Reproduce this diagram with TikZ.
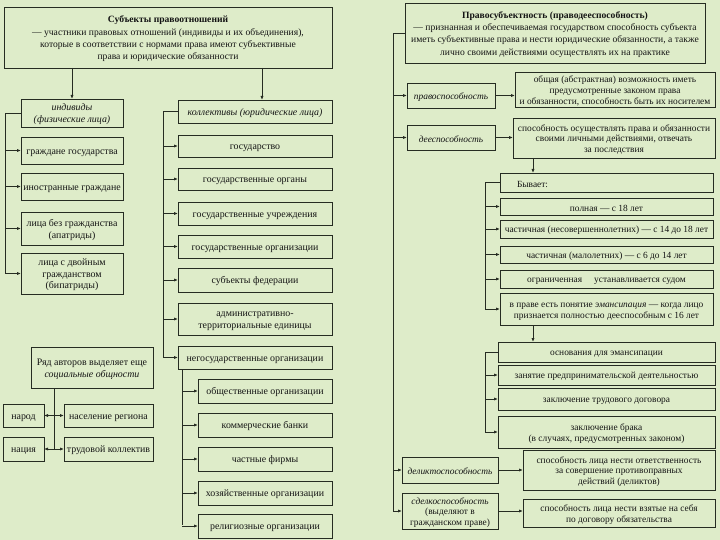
\documentclass[tikz,border=0pt]{standalone}
\usepackage{fontspec}
\setmainfont{Liberation Serif}
\usetikzlibrary{arrows.meta}
\definecolor{bgcol}{RGB}{222,236,201}
\definecolor{lncol}{RGB}{38,44,34}
\definecolor{txcol}{RGB}{20,20,20}
\newcommand\mybox[7][]{\node[bx,#1,minimum width={(#4-#2)*1pt},minimum height={(#5-#3)*1pt}] (#6) at ({(#2+#4)/2},{(#3+#5)/2}) {\rule{0pt}{9.6pt}#7};}
\tikzset{
  bx/.style={draw=lncol,line width=0.9pt,inner sep=0pt,outer sep=0pt,align=center,text=txcol,font=\fontsize{9.9}{11.6}\selectfont},
  big/.style={font=\fontsize{9.6}{12.4}\selectfont},
  sm/.style={font=\fontsize{9.4}{10.8}\selectfont},
  wire/.style={draw=lncol,line width=0.8pt},
  arr/.style={draw=lncol,line width=0.8pt,-{Latex[length=4pt,width=3.2pt]}}
}
\begin{document}
\begin{tikzpicture}[x=1pt,y=-1pt]
\fill[bgcol] (0,0) rectangle (720,540);
\useasboundingbox (0,0) rectangle (720,540);
% ---------- left part
\mybox[big]{4}{7}{332}{68}{top1}{\textbf{Субъекты правоотношений}\\— участники правовых отношений (индивиды и их объединения),\\которые в соответствии с нормами права имеют субъективные\\права и юридические обязанности}
\mybox{21}{99}{123}{127}{indiv}{\textit{индивиды}\\\textit{(физические лица)}}
\mybox{21}{137}{123}{164}{grazh}{граждане государства}
\mybox{21}{173}{123}{200}{inostr}{иностранные граждане}
\mybox{21}{212}{123}{245}{bez}{лица без гражданства\\(апатриды)}
\mybox{21}{253}{123}{294}{dvoin}{лица с двойным\\гражданством\\(бипатриды)}
\mybox{178}{100}{332}{123}{coll}{\textit{коллективы (юридические лица)}}
\mybox{178}{135}{332}{157}{gos}{государство}
\mybox{178}{168}{332}{190}{gosorg}{государственные органы}
\mybox{178}{202}{332}{225}{gosuch}{государственные учреждения}
\mybox{178}{235}{332}{258}{gosorgz}{государственные организации}
\mybox{178}{268}{332}{292}{subfed}{субъекты федерации}
\mybox{178}{303}{332}{335}{adm}{административно-\\территориальные единицы}
\mybox{178}{346}{332}{369}{negos}{негосударственные организации}
\mybox{198}{379}{332}{403}{obsh}{общественные организации}
\mybox{198}{413}{332}{437}{komm}{коммерческие банки}
\mybox{198}{447}{332}{471}{chast}{частные фирмы}
\mybox{198}{481}{332}{505}{hoz}{хозяйственные организации}
\mybox{198}{514}{332}{538}{relig}{религиозные организации}
\mybox{31}{347}{153}{388}{ryad}{Ряд авторов выделяет еще\\\textit{социальные общности}}
\mybox{3}{404}{44}{427}{narod}{народ}
\mybox{64}{404}{153}{427}{nasel}{население региона}
\mybox{3}{437}{44}{461}{naciya}{нация}
\mybox{64}{437}{153}{461}{trud}{трудовой коллектив}
% connectors left
\draw[arr] (top1.south -| indiv.north) -- (indiv.north);
\draw[arr] ([xshift=7pt]coll.north |- top1.south) -- ([xshift=7pt]coll.north);
\coordinate (LL) at (5,0);
\draw[wire] (indiv.west) -| (LL |- dvoin.west);
\foreach \n in {grazh,inostr,bez,dvoin} \draw[arr] (LL |- \n.west) -- (\n.west);
\coordinate (ML) at (163,0);
\draw[wire] (coll.west) -| (ML |- negos.west);
\foreach \n in {gos,gosorg,gosuch,gosorgz,subfed,adm,negos} \draw[arr] (ML |- \n.west) -- (\n.west);
\coordinate (SL) at (182,0);
\draw[wire] (SL |- negos.south) -- ([yshift=1pt]SL |- relig.west);
\foreach \n in {obsh,komm,chast,hoz,relig} \draw[arr] (SL |- \n.west) -- (\n.west);
\coordinate (RL) at (54,0);
\draw[wire] (RL |- ryad.south) -- (RL |- trud.west);
\draw[arr] (RL |- narod.east) -- (narod.east);
\draw[arr] (RL |- nasel.west) -- (nasel.west);
\draw[arr] (RL |- naciya.east) -- (naciya.east);
\draw[arr] (RL |- trud.west) -- (trud.west);
% ---------- right part
\mybox[big]{405}{3}{705}{63}{top2}{\textbf{Правосубъектность (праводееспособность)}\\— признанная и обеспечиваемая государством способность субъекта\\иметь субъективные права и нести юридические обязанности, а также\\лично своими действиями осуществлять их на практике}
\mybox[sm]{407}{83}{495}{108}{pravo}{\textit{правоспособность}}
\mybox[sm]{515}{72}{715}{107}{obshaya}{общая (абстрактная) возможность иметь\\предусмотренные законом права\\и обязанности, способность быть их носителем}
\mybox[sm]{407}{125}{495}{150}{deesp}{\textit{дееспособность}}
\mybox[sm]{513}{118}{715}{158}{sposob}{способность осуществлять права и обязанности\\своими личными действиями, отвечать\\за последствия}
\mybox[sm]{500}{173}{713}{192}{byvaet}{\makebox[179pt][l]{Бывает:}}
\mybox[sm]{500}{198}{713}{215}{polnaya}{полная — с 18 лет}
\mybox[sm]{500}{220}{713}{238}{chast1}{частичная (несовершеннолетних) — с 14 до 18 лет}
\mybox[sm]{500}{246}{713}{263}{chast2}{частичная (малолетних) — с 6 до 14 лет}
\mybox[sm]{500}{270}{713}{288}{ogr}{ограниченная\hspace{12pt}устанавливается судом}
\mybox[sm]{500}{293}{713}{325}{vprave}{в праве есть понятие \textit{эмансипация} — когда лицо\\признается полностью дееспособным с 16 лет}
\mybox[sm]{498}{342}{715}{362}{osnov}{основания для эмансипации}
\mybox[sm]{498}{365}{715}{385}{zanyat}{занятие предпринимательской деятельностью}
\mybox[sm]{498}{388}{715}{410}{trudov}{заключение трудового договора}
\mybox[sm]{498}{416}{715}{448}{brak}{заключение брака\\(в случаях, предусмотренных законом)}
\mybox[sm]{402}{457}{498}{483}{delikt}{\textit{деликтоспособность}}
\mybox[sm]{523}{450}{715}{490}{otvet}{способность лица нести ответственность\\за совершение противоправных\\действий (деликтов)}
\mybox[sm]{402}{493}{498}{529}{sdelk}{\textit{сделкоспособность}\\(выделяют в\\гражданском праве)}
\mybox[sm]{523}{499}{715}{527}{vzyat}{способность лица нести взятые на себя\\по договору обязательства}
% connectors right
\coordinate (RR) at (393,0);
\draw[wire] (top2.west) -| (RR |- sdelk.west);
\foreach \n in {pravo,deesp,delikt,sdelk} \draw[arr] (RR |- \n.west) -- (\n.west);
\draw[arr] (pravo.east) -- (pravo.east -| obshaya.west);
\draw[arr] (deesp.east) -- (deesp.east -| sposob.west);
\draw[arr] (delikt.east) -- (delikt.east -| otvet.west);
\draw[arr] (sdelk.east) -- (sdelk.east -| vzyat.west);
\coordinate (D1) at (533,0);
\draw[arr] (D1 |- sposob.south) -- (D1 |- byvaet.north);
\coordinate (BL) at (485,0);
\draw[wire] (byvaet.west) -| (BL |- vprave.west);
\foreach \n in {polnaya,chast1,chast2,ogr,vprave} \draw[arr] (BL |- \n.west) -- (\n.west);
\draw[arr] (D1 |- vprave.south) -- (D1 |- osnov.north);
\draw[wire] (osnov.west) -| (BL |- brak.west);
\foreach \n in {zanyat,trudov,brak} \draw[arr] (BL |- \n.west) -- (\n.west);
\end{tikzpicture}
\end{document}
